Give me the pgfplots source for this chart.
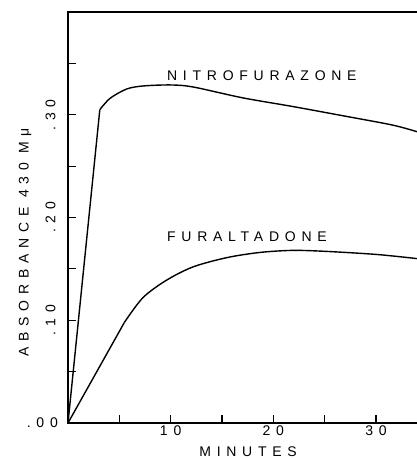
\documentclass[border=0pt]{standalone}
\usepackage{fontspec}
\usepackage{pgfplots}
\pgfplotsset{compat=1.18}
\newfontfamily\lf[LetterSpace=41, Scale=1.4]{Liberation Sans}
\newcommand{\lab}{\lf}
\begin{document}
\begin{tikzpicture}
\path[use as bounding box] (-68pt,-36pt) rectangle (349pt,423pt);
\begin{axis}[
  at={(0pt,0pt)}, anchor=south west,
  scale only axis, width=349pt, height=411pt,
  xmin=0, xmax=34, ymin=0, ymax=0.4,
  axis line style={draw=none},
  xtick={10,20,30}, xticklabels={10,20,30},
  minor xtick={5,15,25},
  ytick={0.1,0.2,0.3}, yticklabels={.10,.20,.30},
  minor ytick={0.05,0.15,0.25,0.35},
  xtick pos=bottom, ytick pos=left,
  tick align=inside,
  major tick length=8pt, minor tick length=8pt,
  every tick/.style={black, line width=1.2pt},
  tick label style={font=\lab},
  yticklabel style={rotate=90, anchor=south, yshift=9pt},
  xticklabel style={yshift=1pt},
  xlabel={MINUTES}, ylabel={ABSORBANCE 430 Mμ},
  xlabel style={font=\lab, inner sep=0pt, at={(rel axis cs:0.516,-0.0705)}, anchor=center},
  ylabel style={font=\lab, inner sep=0pt, at={(rel axis cs:-0.123,0.44)}, anchor=center},
  clip=false,
]
\draw[line width=1.6pt] (rel axis cs:1,1) -- (rel axis cs:0,1) -- (rel axis cs:0,0) -- (rel axis cs:1,0);
% Nitrofurazone
\addplot[black, line width=1.4pt] coordinates {(0,0) (3.1,0.305)};
\addplot[black, line width=1.4pt, smooth] coordinates {
 (3.1,0.305) (4.1,0.316) (5.7,0.325) (7.3,0.328) (10,0.329) (12.2,0.327)
 (17,0.3165) (21.9,0.308) (26.8,0.299) (31.6,0.29) (34,0.2835)};
% Furaltadone
\addplot[black, line width=1.4pt] coordinates {(0,0) (5.5,0.098)};
\addplot[black, line width=1.4pt, smooth] coordinates {
 (5.5,0.098) (7.3,0.122) (9.6,0.139) (12.2,0.152) (15.5,0.161) (18.7,0.166)
 (21.9,0.168) (25.2,0.167) (30.1,0.164) (34,0.160)};
\node[font=\lab, anchor=east, inner sep=0pt] at ([xshift=-10pt]axis cs:0,0) {.00};
\node[font=\lab, anchor=west, inner sep=0pt] at (axis cs:9.64,0.338) {NITROFURAZONE};
\node[font=\lab, anchor=west, inner sep=0pt] at (axis cs:9.64,0.181) {FURALTADONE};
\end{axis}
\end{tikzpicture}
\end{document}
